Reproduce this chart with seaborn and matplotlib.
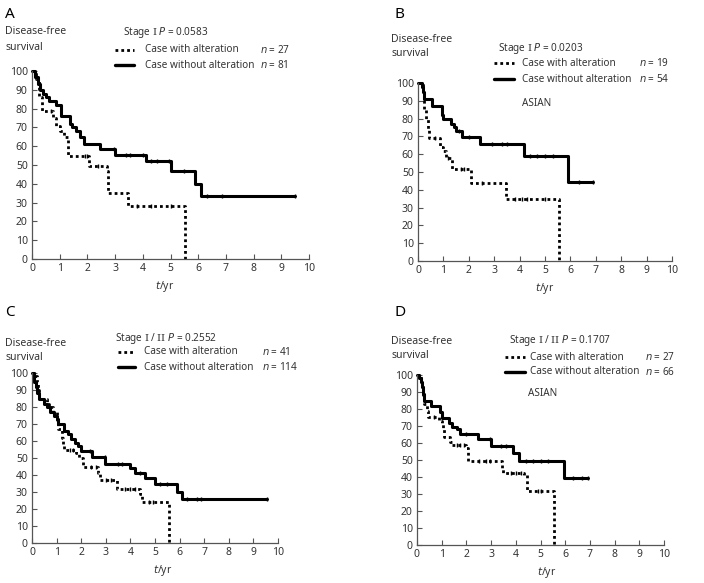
import numpy as np
import pandas as pd
import seaborn as sns
import matplotlib
matplotlib.use('Agg')
import matplotlib.pyplot as plt
from matplotlib.lines import Line2D

# step points (time in years, survival %), and censor times
a_wo_t = [0, 0.1, 0.2, 0.3, 0.4, 0.5, 0.6, 0.85, 1.05, 1.37, 1.45, 1.6, 1.75, 1.88, 2.45, 3.0, 4.12, 5.0, 5.9, 6.1, 9.5]
a_wo_s = [100, 97, 93, 90, 88, 86, 84, 82, 76, 72, 70, 68, 65, 61, 58.5, 55.5, 52, 47, 40, 33.5, 33.5]
a_wo_c = [2.95, 3.4, 3.55, 4.0, 4.3, 4.5, 4.95, 5.5, 6.3, 6.85, 9.5]
a_w_t = [0, 0.15, 0.25, 0.36, 0.76, 0.85, 1.0, 1.15, 1.3, 2.06, 2.7, 2.74, 3.47, 5.53]
a_w_s = [100, 96, 86, 78.5, 75, 71, 68, 65, 55, 49.5, 47, 35, 28, 0]
a_w_c = [0.7, 1.9, 2.0, 2.4, 3.8, 4.3, 5.0]

b_wo_t = [0, 0.15, 0.2, 0.25, 0.55, 0.95, 1.0, 1.3, 1.4, 1.5, 1.75, 2.45, 4.17, 5.91, 6.88]
b_wo_s = [100, 98, 95, 91, 87, 82, 80, 77, 75, 73, 69.5, 65.5, 59, 44.5, 44.5]
b_wo_c = [1.6, 2.0, 2.9, 3.3, 3.5, 4.4, 4.7, 5.0, 5.3, 6.35, 6.88]
b_w_t = [0, 0.2, 0.25, 0.3, 0.4, 0.45, 0.85, 1.0, 1.1, 1.33, 2.07, 3.47, 5.54]
b_w_s = [100, 93, 85, 80, 74, 69, 64, 62, 58, 51.5, 44, 35, 0]
b_w_c = [0.65, 1.2, 1.7, 1.8, 2.5, 3.8, 4.1, 4.3, 5.0]

c_wo_t = [0, 0.1, 0.15, 0.2, 0.3, 0.5, 0.6, 0.75, 0.9, 1.0, 1.04, 1.31, 1.45, 1.6, 1.75, 1.85, 2.0, 2.44, 2.98, 3.97, 4.2, 4.58, 4.99, 5.89, 6.11, 9.55]
c_wo_s = [100, 95, 92, 88, 85, 82, 80, 77, 75, 73, 70, 66, 64, 61, 59, 57, 54, 50.5, 46.5, 44, 41, 38, 34.5, 30, 26, 26]
c_wo_c = [2.35, 2.95, 3.5, 3.65, 4.4, 5.2, 5.5, 6.3, 6.7, 6.85, 9.55]
c_w_t = [0, 0.1, 0.2, 0.25, 0.3, 0.6, 0.7, 0.85, 1.0, 1.05, 1.2, 1.25, 1.29, 1.8, 1.9, 2.06, 2.7, 2.78, 3.46, 4.4, 4.47, 5.56]
c_w_s = [100, 98, 95, 90, 85, 82, 80, 77, 72, 67, 62, 58, 55, 53, 50, 44.5, 41, 37, 31.5, 29, 24, 0]
c_w_c = [1.55, 1.65, 2.4, 2.6, 3.0, 3.2, 3.8, 4.0, 4.2, 4.75, 4.9]

d_wo_t = [0, 0.1, 0.15, 0.2, 0.25, 0.3, 0.55, 0.95, 1.0, 1.3, 1.4, 1.6, 1.74, 2.48, 3.0, 3.89, 4.13, 5.94, 6.91]
d_wo_s = [100, 98, 96, 93, 89, 85, 82, 78, 75, 72, 69.5, 68, 65.5, 62.5, 58.5, 54, 49.5, 39.5, 39.5]
d_wo_c = [2.0, 2.95, 3.4, 3.6, 4.4, 4.7, 5.0, 5.3, 6.3, 6.7, 6.91]
d_w_t = [0, 0.15, 0.2, 0.25, 0.3, 0.4, 0.45, 0.9, 1.0, 1.05, 1.09, 1.35, 1.4, 2.0, 2.05, 2.08, 3.45, 3.5, 4.35, 4.44, 5.56]
d_w_s = [100, 97, 93, 88, 83, 79, 75.5, 73, 71, 69, 63.5, 60.5, 59, 57, 53, 49.5, 45, 42.5, 41, 32, 0]
d_w_c = [0.7, 1.6, 1.75, 1.9, 2.5, 2.8, 2.95, 3.8, 4.0, 4.2, 4.9, 5.0]

x_ticks = list(range(0, 11))
y_ticks = list(range(0, 101, 10))

sns.set_style('ticks')
plt.rcParams['font.family'] = ['Noto Sans', 'DejaVu Sans']
plt.rcParams['mathtext.fontset'] = 'custom'
plt.rcParams['mathtext.rm'] = 'DejaVu Serif'
plt.rcParams['mathtext.it'] = 'DejaVu Sans:italic'

TXT = '#333333'
FS = 7.2
W, H = 704, 583


def fx(x):
    return x / W


def fy(y):
    return 1 - y / H


def step_at(t, s, c):
    idx = np.searchsorted(t, c, side='right') - 1
    return np.array(s)[idx]


fig = plt.figure(figsize=(7.04, 5.83), dpi=100)

panels = [
    dict(letter='A', rect=(32, 71, 309, 259), stage=r'Stage $\mathrm{I}$ $P$ = 0.0583',
         n1='27', n2='81', asian=False,
         wo=(a_wo_t, a_wo_s, a_wo_c), w=(a_w_t, a_w_s, a_w_c),
         let=(5, 15), dfs=(5, 32), st=(123, 32), leg=(115, 134, 145, 260, 50, 65), tyr=(165, 286)),
    dict(letter='B', rect=(418, 83, 672, 261), stage=r'Stage $\mathrm{I}$ $P$ = 0.0203',
         n1='19', n2='54', asian=(522, 103),
         wo=(b_wo_t, b_wo_s, b_wo_c), w=(b_w_t, b_w_s, b_w_c),
         let=(395, 14), dfs=(391, 39), st=(498, 49), leg=(494, 514, 522, 639, 63, 79), tyr=(545, 289)),
    dict(letter='C', rect=(32, 373, 278, 543), stage=r'Stage $\mathrm{I}$ / $\mathrm{II}$ $P$ = 0.2552',
         n1='41', n2='114', asian=False,
         wo=(c_wo_t, c_wo_s, c_wo_c), w=(c_w_t, c_w_s, c_w_c),
         let=(5, 313), dfs=(5, 343), st=(115, 338), leg=(118, 135, 144, 262, 352, 367), tyr=(163, 571)),
    dict(letter='D', rect=(417, 375, 664, 545), stage=r'Stage $\mathrm{I}$ / $\mathrm{II}$ $P$ = 0.1707',
         n1='27', n2='66', asian=(528, 393),
         wo=(d_wo_t, d_wo_s, d_wo_c), w=(d_w_t, d_w_s, d_w_c),
         let=(395, 313), dfs=(391, 341), st=(509, 340), leg=(505, 525, 530, 645, 357, 372), tyr=(547, 573)),
]

dot_style = (0, (1, 1.1))

for p in panels:
    x0, y0, x1, y1 = p['rect']
    ax = fig.add_axes([fx(x0), fy(y1), (x1 - x0) / W, (y1 - y0) / H])

    for key, ls, lw in [('w', dot_style, 2.0), ('wo', '-', 2.2)]:
        t, s, c = p[key]
        df = pd.DataFrame({'t': t, 's': s})
        sns.lineplot(data=df, x='t', y='s', ax=ax, color='black', linestyle=ls, linewidth=lw,
                     drawstyle='steps-post', estimator=None, sort=False, clip_on=False)
        cen = pd.DataFrame({'t': c, 's': step_at(t, s, c)})
        sns.scatterplot(data=cen, x='t', y='s', ax=ax, color='black', marker='|', s=7,
                        linewidth=1.0, clip_on=False, zorder=3)

    ax.set_xlim(0, 10)
    ax.set_ylim(0, 100)
    ax.set_xticks(x_ticks)
    ax.set_yticks(y_ticks)
    ax.set_xlabel('')
    ax.set_ylabel('')
    sns.despine(ax=ax)
    for sp in ['left', 'bottom']:
        ax.spines[sp].set_color('#555555')
        ax.spines[sp].set_linewidth(0.9)
    ax.tick_params(direction='in', length=3.5, width=0.8, color='#555555',
                   labelsize=7.5, labelcolor=TXT, pad=3)

    fig.text(fx(p['let'][0]), fy(p['let'][1]), p['letter'], fontsize=11, fontweight='bold',
             color='black', va='center', ha='left')
    fig.text(fx(p['dfs'][0]), fy(p['dfs'][1]), 'Disease-free', fontsize=7.5, color=TXT,
             va='center', ha='left')
    fig.text(fx(p['dfs'][0]), fy(p['dfs'][1] + 15), 'survival', fontsize=7.5, color=TXT,
             va='center', ha='left')
    fig.text(fx(p['st'][0]), fy(p['st'][1]), p['stage'], fontsize=FS, color=TXT,
             va='center', ha='left')

    lx0, lx1, tx, nx, ly1, ly2 = p['leg']
    fig.add_artist(Line2D([fx(lx0), fx(lx1)], [fy(ly1), fy(ly1)], transform=fig.transFigure,
                          color='black', linestyle=dot_style, linewidth=2.0))
    fig.add_artist(Line2D([fx(lx0), fx(lx1)], [fy(ly2), fy(ly2)], transform=fig.transFigure,
                          color='black', linestyle='-', linewidth=2.4))
    fig.text(fx(tx), fy(ly1), 'Case with alteration', fontsize=FS, color=TXT, va='center')
    fig.text(fx(tx), fy(ly2), 'Case without alteration', fontsize=FS, color=TXT, va='center')
    fig.text(fx(nx), fy(ly1), '$n$ = ' + p['n1'], fontsize=FS, color=TXT, va='center')
    fig.text(fx(nx), fy(ly2), '$n$ = ' + p['n2'], fontsize=FS, color=TXT, va='center')
    if p['asian']:
        fig.text(fx(p['asian'][0]), fy(p['asian'][1]), 'ASIAN', fontsize=FS, color=TXT,
                 va='center')
    fig.text(fx(p['tyr'][0]), fy(p['tyr'][1]), '$t$/yr', fontsize=7.5, color=TXT,
             va='center', ha='center')

fig.savefig('out.png', dpi=100)
